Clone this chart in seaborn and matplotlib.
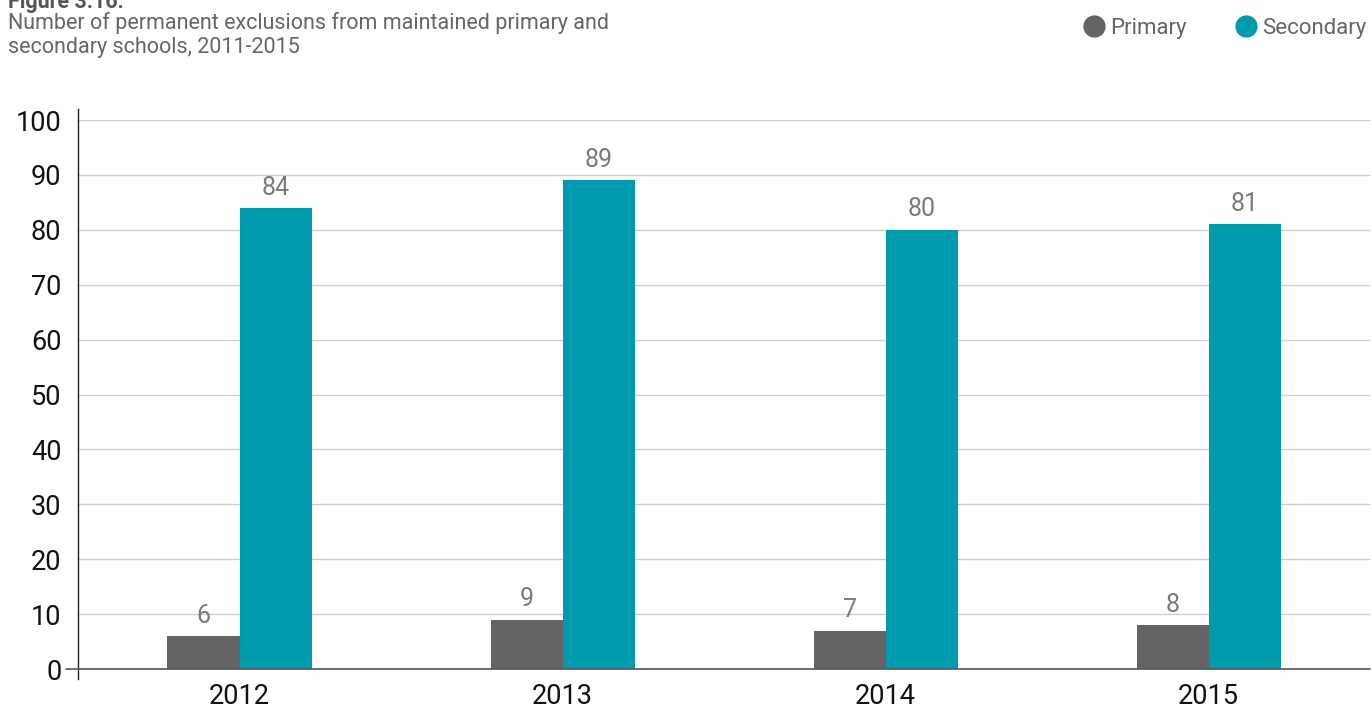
import pandas as pd
import matplotlib.pyplot as plt
import seaborn as sns
from matplotlib.lines import Line2D

# Data
years = ["2012", "2013", "2014", "2015"]
primary = [6, 9, 7, 8]
secondary = [84, 89, 80, 81]
phases = ["Primary", "Secondary"]
colors = {"Primary": "#646464", "Secondary": "#009bad"}

df = pd.DataFrame({
    "Year": years * 2,
    "Phase": ["Primary"] * len(years) + ["Secondary"] * len(years),
    "Exclusions": primary + secondary,
})

sns.set_theme(style="white")
plt.rcParams["font.family"] = ["Roboto", "DejaVu Sans"]

fig = plt.figure(figsize=(13.71, 7.09), dpi=100)
ax = fig.add_axes([0.0569, 0.0564, 0.9425, 0.7743])

sns.barplot(data=df, x="Year", y="Exclusions", hue="Phase", hue_order=phases,
            palette=colors, width=0.446, saturation=1, linewidth=0,
            ax=ax, legend=False)

for c in ax.containers:
    ax.bar_label(c, padding=6, fontsize=18, color="#7a7a7a")

ax.set_ylim(0, 100)
ax.set_xlim(-0.5, 3.5)
ax.set_yticks(range(0, 101, 10))
ax.grid(axis="y", color="#cfcfcf", linewidth=1)
ax.set_axisbelow(True)
ax.set_xlabel("")
ax.set_ylabel("")

for s in ["top", "right", "bottom"]:
    ax.spines[s].set_visible(False)
ax.spines["left"].set_color("#222222")
ax.spines["left"].set_linewidth(1)
ax.spines["left"].set_bounds(-1.8, 102)

# zero line, sticking out a little to the left of the spine
ax.axhline(0, xmin=-0.009, xmax=1, color="#555555", linewidth=1.2, clip_on=False, zorder=3)

ax.tick_params(axis="y", length=0, labelsize=19.5, labelcolor="#111111", pad=12)
ax.tick_params(axis="x", which="major", length=0, labelsize=19.5, labelcolor="#111111", pad=10)
ax.set_xticks([-0.5, 0.5, 1.5, 2.5, 3.5], minor=True)
ax.tick_params(axis="x", which="minor", length=10, width=1, color="#333333", direction="out")

# Title block (top line is cut by the page edge, as in the source)
fig.text(0.006, 0.997, "Figure 3.16:", fontsize=15.5, fontweight="bold", color="#555555",
         va="center", ha="left")
fig.text(0.006, 0.983, "Number of permanent exclusions from maintained primary and\n"
         "secondary schools, 2011-2015", fontsize=15.5, color="#666666",
         va="top", ha="left", linespacing=1.2)

# Legend with round markers
handles = [Line2D([], [], marker="o", linestyle="", markersize=15,
                  markerfacecolor=colors[p], markeredgecolor=colors[p]) for p in phases]
fig.legend(handles, phases, loc="upper right", bbox_to_anchor=(1.011, 1.003), ncol=2,
           frameon=False, fontsize=16, labelcolor="#666666", handletextpad=-0.1,
           columnspacing=1.9, handlelength=1.6)

fig.savefig("out.png", dpi=100)
